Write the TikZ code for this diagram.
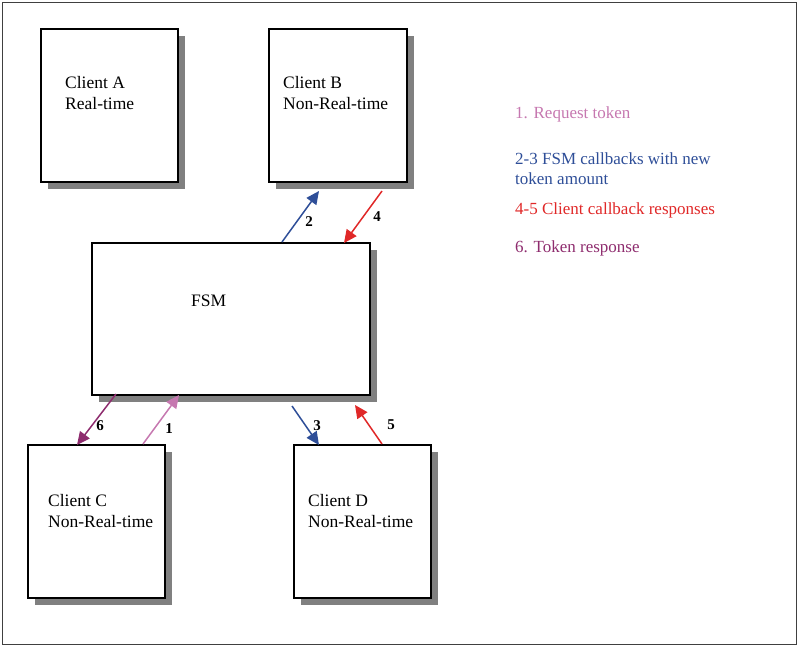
\documentclass[tikz,border=0pt]{standalone}
\usepackage{fontspec}
\setmainfont{Liberation Serif}
\usetikzlibrary{arrows.meta,shadows}
\definecolor{cPink}{HTML}{C678B0}
\definecolor{cBlue}{HTML}{2E4E98}
\definecolor{cRed}{HTML}{E02828}
\definecolor{cPurple}{HTML}{8E2C6E}
\definecolor{cShadow}{HTML}{808080}
\begin{document}
\begin{tikzpicture}[x=1pt,y=-1pt,
  box/.style={draw=black,line width=1.8pt,fill=white,inner sep=0,anchor=north west,
    drop shadow={shadow xshift=7pt,shadow yshift=-7pt,fill=cShadow,opacity=1}},
  txt/.style={font=\fontsize{17.5}{20.5}\selectfont,align=left,anchor=base west,inner sep=0},
  leg/.style={font=\fontsize{17}{20}\selectfont,align=left,anchor=base west,inner sep=0},
  num/.style={font=\fontsize{15}{15}\selectfont\bfseries,inner sep=0},
  arr/.style={line width=1.5pt,-{Triangle[length=13pt,width=12pt]}}]
\useasboundingbox (0,0) rectangle (798,646);
\draw[line width=1pt,black!75] (2,2) rectangle (796,644);
% boxes
\node[box,minimum width=137pt,minimum height=153pt] (A) at (40,28) {};
\node[box,minimum width=138pt,minimum height=153pt] (B) at (268,28) {};
\node[box,minimum width=278pt,minimum height=152pt] (F) at (91,242) {};
\node[box,minimum width=137pt,minimum height=153pt] (C) at (27,444) {};
\node[box,minimum width=137pt,minimum height=153pt] (D) at (293,444) {};
% texts (base anchor = last line baseline)
\node[txt] (tA) at (65,109) {Client A\\Real-time};
\node[txt] (tB) at (283,109) {Client B\\Non-Real-time};
\node[txt] (tF) at (191,306) {FSM};
\node[txt] (tC) at (48,527) {Client C\\Non-Real-time};
\node[txt] (tD) at (308,527) {Client D\\Non-Real-time};
% legend
\node[leg,text=cPink] (l1) at (515,118) {1. Request token};
\node[leg,text=cBlue] (l2) at (515,184) {2-3 FSM callbacks with new\\token amount};
\node[leg,text=cRed] (l4) at (515,214) {4-5 Client callback responses};
\node[leg,text=cPurple] (l6) at (515,252) {6. Token response};
% arrow end points
\coordinate (a2s) at (282,242); \coordinate (a2e) at (319,191);
\coordinate (a4s) at (382,191); \coordinate (a4e) at (344,243);
\coordinate (a6s) at (116,394); \coordinate (a6e) at (77,445);
\coordinate (a1s) at (143,444); \coordinate (a1e) at (179,395);
\coordinate (a3s) at (292,406); \coordinate (a3e) at (319,445);
\coordinate (a5s) at (382,444); \coordinate (a5e) at (355,405);
\draw[arr,cBlue] (a2s) -- (a2e);
\draw[arr,cRed] (a4s) -- (a4e);
\draw[arr,cPurple] (a6s) -- (a6e);
\draw[arr,cPink] (a1s) -- (a1e);
\draw[arr,cBlue] (a3s) -- (a3e);
\draw[arr,cRed] (a5s) -- (a5e);
% numbers
\node[num] (n2) at (309,222) {2};
\node[num] (n4) at (377,217) {4};
\node[num] (n6) at (100,426) {6};
\node[num] (n1) at (169,429) {1};
\node[num] (n3) at (317,426) {3};
\node[num] (n5) at (391,425) {5};
\end{tikzpicture}
\end{document}
